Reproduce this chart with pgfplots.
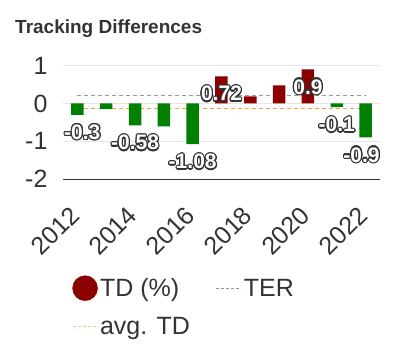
\documentclass[border=0pt]{standalone}
\usepackage{pgfplots}
\pgfplotsset{compat=1.18}
\usepackage{fontspec}
\setmainfont{Liberation Sans}
\usepackage[copies]{contour}
\contourlength{1.2pt}
\definecolor{tdred}{HTML}{8B0000}
\definecolor{tdgreen}{HTML}{008000}
\definecolor{txt}{HTML}{333333}
\definecolor{gridc}{HTML}{E6E6E6}
\definecolor{terc}{HTML}{999999}
\definecolor{avgc}{HTML}{FFA040}
\begin{document}
\begin{tikzpicture}
\path[use as bounding box] (0,0) rectangle (397pt,355pt);
\node[anchor=base west, inner sep=0pt, text=txt, font=\bfseries\fontsize{19}{22}\selectfont] at (15pt,321pt) {Tracking Differences};
\begin{axis}[
  at={(63pt,176pt)}, anchor=south west,
  scale only axis, width=317pt, height=113.3pt,
  xmin=2011.5, xmax=2022.5, ymin=-2, ymax=1,
  ytick={-2,-1,0,1}, xtick={2012,2014,...,2022},
  axis x line*=bottom, axis y line*=left,
  y axis line style={draw=none},
  x axis line style={draw=txt, line width=0.8pt, -},
  major tick length=0pt,
  ymajorgrids, grid style={gridc, line width=0.8pt},
  /pgf/number format/assume math mode=true,
  /pgf/number format/1000 sep={},
  ticklabel style={font=\fontsize{25}{28}\selectfont, text=txt},
  yticklabel style={xshift=-12pt},
  xticklabel style={rotate=45, anchor=north east, xshift=-21pt, yshift=-8.5pt},
  legend style={draw=none, fill=none, at={(axis description cs:0.028,-0.85)}, anchor=north west,
    inner sep=0pt, legend columns=2, font=\fontsize{25}{28}\selectfont, text=txt,
    /tikz/every even column/.append style={column sep=24pt}, row sep=14pt},
  legend cell align=left,
]
\addlegendimage{legend image code/.code={\fill[tdred] (12.5pt,0pt) circle (12.5pt);}}
\addlegendentry{TD (\%)}
\addlegendimage{legend image code/.code={\draw[terc, dash pattern=on 3pt off 2pt, line width=1pt] (0pt,0pt) -- (25pt,0pt);}}
\addlegendentry{TER}
\addlegendimage{legend image code/.code={\draw[avgc!60, dash pattern=on 3pt off 2pt, line width=1pt] (0pt,0pt) -- (25pt,0pt);}}
\addlegendentry{avg. TD}

\addplot[forget plot, terc, dash pattern=on 4pt off 3pt, line width=1pt] coordinates {(2012,0.2) (2022,0.2)};
\addplot[forget plot, avgc, dash pattern=on 4pt off 3pt, line width=1pt] coordinates {(2012,-0.128) (2022,-0.128)};

\addplot[forget plot, ybar, bar width=12.5pt, bar shift=0pt, fill=tdred, draw=none] coordinates {
(2017,0.72) (2018,0.19) (2019,0.48) (2020,0.9)};
\addplot[forget plot, ybar, bar width=12.5pt, bar shift=0pt, fill=tdgreen, draw=none] coordinates {
(2012,-0.3) (2013,-0.15) (2014,-0.58) (2015,-0.61) (2016,-1.08) (2021,-0.1) (2022,-0.9)};

\addplot[forget plot, only marks, mark=none, point meta=explicit symbolic,
  nodes near coords={\contour{txt}{\pgfplotspointmeta}},
  every node near coord/.style={anchor=center, yshift=-18pt, text=white, font=\bfseries\fontsize{21}{24}\selectfont}]
  table[meta=l] {
x y l
2012.17 -0.3 -0.3
2014 -0.58 -0.58
2016 -1.08 -1.08
2017 0.72 0.72
2020 0.9 0.9
2021 -0.1 -0.1
2021.86 -0.9 -0.9
};
\end{axis}
\end{tikzpicture}
\end{document}
